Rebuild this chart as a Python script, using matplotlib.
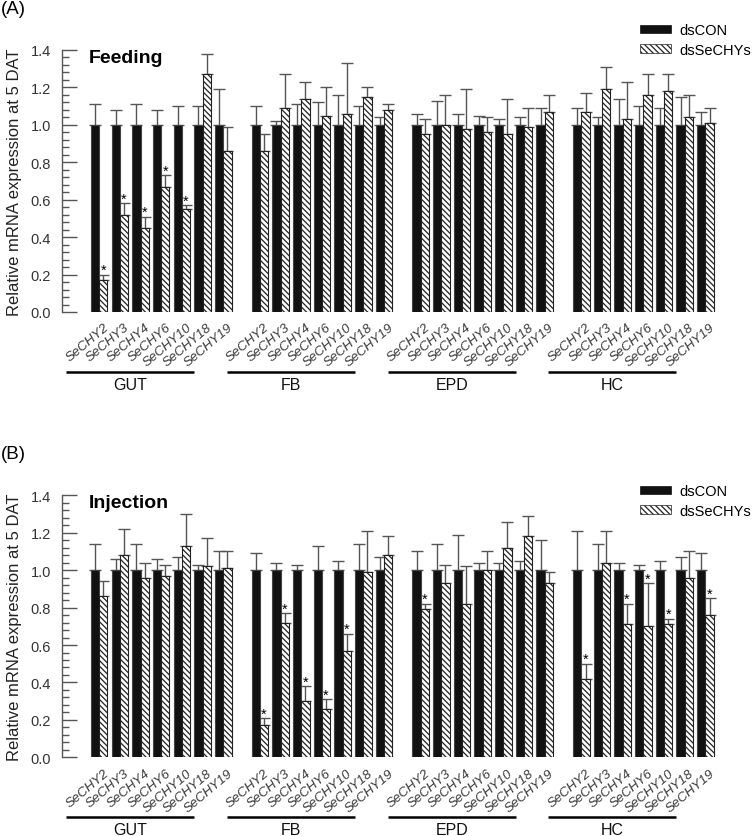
import numpy as np
import matplotlib
matplotlib.use('Agg')
import matplotlib.pyplot as plt
import matplotlib.transforms as mtransforms
from matplotlib.patches import Patch
from matplotlib.ticker import MultipleLocator

plt.rcParams['font.family'] = ['Liberation Sans', 'DejaVu Sans']
plt.rcParams['hatch.linewidth'] = 0.9
plt.rcParams['hatch.color'] = 'black'

genes = ['SeCHY2', 'SeCHY3', 'SeCHY4', 'SeCHY6', 'SeCHY10', 'SeCHY18', 'SeCHY19']
tissues = ['GUT', 'FB', 'EPD', 'HC']

# (A) Feeding -- rows: GUT, FB, EPD, HC ; dsCON mean is 1.0
feed_con_se = [[0.11, 0.08, 0.11, 0.08, 0.10, 0.10, 0.19],
               [0.10, 0.02, 0.11, 0.12, 0.16, 0.10, 0.04],
               [0.06, 0.13, 0.06, 0.05, 0.03, 0.04, 0.09],
               [0.09, 0.04, 0.14, 0.10, 0.09, 0.15, 0.07]]
feed_ds = [[0.17, 0.52, 0.45, 0.67, 0.55, 1.27, 0.86],
           [0.86, 1.09, 1.14, 1.05, 1.06, 1.15, 1.08],
           [0.95, 1.00, 0.98, 0.96, 0.95, 0.99, 1.07],
           [1.07, 1.19, 1.03, 1.16, 1.18, 1.04, 1.01]]
feed_ds_se = [[0.03, 0.06, 0.06, 0.06, 0.02, 0.11, 0.13],
              [0.09, 0.18, 0.09, 0.15, 0.27, 0.05, 0.03],
              [0.08, 0.16, 0.21, 0.08, 0.19, 0.10, 0.09],
              [0.10, 0.12, 0.20, 0.11, 0.09, 0.12, 0.08]]
feed_sig = [[1, 1, 1, 1, 1, 0, 0],
            [0, 0, 0, 0, 0, 0, 0],
            [0, 0, 0, 0, 0, 0, 0],
            [0, 0, 0, 0, 0, 0, 0]]

# (B) Injection
inj_con_se = [[0.14, 0.06, 0.14, 0.06, 0.07, 0.03, 0.10],
              [0.09, 0.04, 0.03, 0.13, 0.05, 0.14, 0.07],
              [0.10, 0.14, 0.19, 0.04, 0.04, 0.05, 0.16],
              [0.21, 0.14, 0.04, 0.03, 0.05, 0.07, 0.09]]
inj_ds = [[0.86, 1.08, 0.96, 0.97, 1.13, 1.02, 1.01],
          [0.17, 0.72, 0.30, 0.26, 0.57, 0.99, 1.08],
          [0.79, 0.93, 0.82, 1.00, 1.12, 1.18, 0.93],
          [0.42, 1.04, 0.71, 0.70, 0.71, 0.96, 0.76]]
inj_ds_se = [[0.08, 0.14, 0.08, 0.06, 0.17, 0.15, 0.09],
             [0.04, 0.05, 0.08, 0.05, 0.09, 0.22, 0.10],
             [0.03, 0.10, 0.20, 0.10, 0.14, 0.11, 0.06],
             [0.08, 0.17, 0.11, 0.23, 0.03, 0.14, 0.09]]
inj_sig = [[0, 0, 0, 0, 0, 0, 0],
           [1, 1, 1, 1, 1, 0, 0],
           [1, 0, 0, 0, 0, 0, 0],
           [1, 0, 1, 1, 1, 0, 1]]

W, H = 754, 837
GROUP_STEP = 7.775
BW = 0.4
HATCH = '\\' * 6
GRAY = '#555555'


def draw_panel(ax, con_se, ds, ds_se, sig, title):
    con = np.ones((4, 7))
    ds, ds_se, con_se = np.array(ds), np.array(ds_se), np.array(con_se)
    x = (np.arange(4)[:, None] * GROUP_STEP + np.arange(7)[None, :])
    xc, xd = x.ravel() - BW / 2, x.ravel() + BW / 2

    ax.errorbar(xc, con.ravel(), yerr=[np.zeros(28), con_se.ravel()], fmt='none',
                ecolor=GRAY, elinewidth=1.0, capsize=4, capthick=1.0, zorder=1)
    ax.errorbar(xd, ds.ravel(), yerr=[np.zeros(28), ds_se.ravel()], fmt='none',
                ecolor=GRAY, elinewidth=1.0, capsize=4, capthick=1.0, zorder=1)
    ax.bar(xc, con.ravel(), BW, color='#111111', edgecolor='#444444', linewidth=0.8, zorder=2)
    ax.bar(xd, ds.ravel(), BW, color='white', edgecolor='#222222', hatch=HATCH,
           linewidth=0.8, zorder=2)

    for xi, top, s in zip(xd, (ds + ds_se).ravel(), np.array(sig).ravel()):
        if s:
            ax.annotate('*', (xi, top), xytext=(0, 0.5), textcoords='offset points',
                        ha='center', va='baseline', fontsize=10.5)

    ax.set_xlim(-1.80, 30.03)
    ax.set_ylim(0, 1.4)
    ax.yaxis.set_major_locator(MultipleLocator(0.2))
    ax.yaxis.set_minor_locator(MultipleLocator(0.04))
    ax.yaxis.set_major_formatter('{x:.1f}')
    ax.tick_params(axis='y', which='major', direction='in', length=10.5, width=1,
                   color=GRAY, labelsize=10.5, labelcolor='#333333', pad=8)
    ax.tick_params(axis='y', which='minor', direction='in', length=4.8, width=1, color=GRAY)
    ax.tick_params(axis='x', bottom=False, labelbottom=False)
    for side in ['top', 'right', 'bottom']:
        ax.spines[side].set_visible(False)
    ax.spines['left'].set_color(GRAY)
    ax.spines['left'].set_linewidth(1.0)
    ax.set_ylabel('Relative mRNA expression at 5 DAT', fontsize=12, color='#222222', labelpad=6)

    # gene labels and tissue brackets under the axis
    trans = mtransforms.blended_transform_factory(ax.transData, ax.transAxes)
    for g in range(4):
        for i, name in enumerate(genes):
            ax.text(x[g, i] + 0.2, -0.035, name, transform=trans, rotation=40,
                    rotation_mode='anchor', ha='right', va='top', style='italic',
                    fontsize=9.6, color='#3a3a3a')
        x0 = x[g, 0] - 1.6
        x1 = x[g, 0] + 4.6
        ax.plot([x0, x1], [-0.228, -0.228], transform=trans, color='black', lw=1.8,
                clip_on=False, solid_capstyle='butt')
        ax.text((x0 + x1) / 2, -0.275, tissues[g], transform=trans, ha='center',
                va='center', fontsize=11.5, color='#111111')

    ax.text(0.040, 0.972, title, transform=ax.transAxes, fontsize=14, fontweight='bold',
            ha='left', va='center')


fig = plt.figure(figsize=(W / 100, H / 100), dpi=100)
axA = fig.add_axes([62 / W, 1 - 313 / H, 658 / W, 262 / H])
axB = fig.add_axes([62 / W, 1 - 758.3 / H, 658 / W, 262 / H])

draw_panel(axA, feed_con_se, feed_ds, feed_ds_se, feed_sig, 'Feeding')
draw_panel(axB, inj_con_se, inj_ds, inj_ds_se, inj_sig, 'Injection')

handles = [Patch(facecolor='#111111', edgecolor='#111111', linewidth=0.5),
           Patch(facecolor='white', edgecolor='#222222', hatch=HATCH, linewidth=0.5)]
for top_px in [24, 485]:
    fig.legend(handles, ['dsCON', 'dsSeCHYs'], loc='upper left',
               bbox_to_anchor=(640 / W, 1 - top_px / H), frameon=False, fontsize=10.5,
               handlelength=2.1, handleheight=0.5, handletextpad=0.6,
               labelspacing=0.38, borderpad=0, borderaxespad=0)

fig.text(1 / W, 1 - 10 / H, '(A)', fontsize=13.5, ha='left', va='center')
fig.text(1 / W, 1 - 455 / H, '(B)', fontsize=13.5, ha='left', va='center')

fig.savefig('out.png', dpi=100)
